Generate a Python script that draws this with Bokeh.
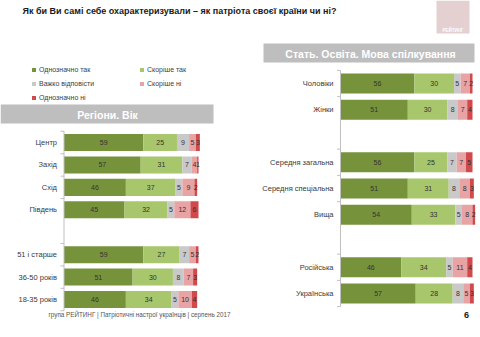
import numpy as np
from bokeh.plotting import figure
from bokeh.models import Range1d, ColumnDataSource, Legend, LegendItem
from bokeh.core.properties import value
from bokeh.embed import file_html
from bokeh.resources import INLINE

# ---------------- data ----------------
title = "Як  би Ви самі себе охарактеризували – як патріота своєї країни чи ні?"
series = ["Однозначно так", "Скоріше так", "Важко відповісти", "Скоріше ні", "Однозначно ні"]
colors = ["#76933c", "#a8c66c", "#c9c9c9", "#e8a4a4", "#d0494b"]

left_header = "Регіони. Вік"
left_groups = [["Центр", "Захід", "Схід", "Південь"],
               ["51 і старше", "36-50 років", "18-35 років"]]
left_yes = [59, 57, 46, 45, 59, 51, 46]
left_rather_yes = [25, 31, 37, 32, 27, 30, 34]
left_hard = [9, 7, 5, 5, 7, 8, 5]
left_rather_no = [5, 4, 9, 12, 5, 7, 10]
left_no = [3, 1, 2, 6, 2, 3, 4]

right_header = "Стать. Освіта. Мова спілкування"
right_groups = [["Чоловіки", "Жінки"],
                ["Середня загальна", "Середня спеціальна", "Вища"],
                ["Російська", "Українська"]]
right_yes = [56, 51, 56, 51, 54, 46, 57]
right_rather_yes = [30, 30, 25, 31, 33, 34, 28]
right_hard = [5, 8, 7, 8, 5, 5, 8]
right_rather_no = [7, 7, 7, 8, 8, 11, 5]
right_no = [2, 4, 5, 3, 2, 4, 3]

footer = "група РЕЙТИНГ  | Патріотичні настрої українців |  серпень 2017"
page_no = "6"
logo_text = "РЕЙТИНГ"

# ---------------- canvas ----------------
W, H = 480, 337
FONT_NAME = "Liberation Sans"
FONT = value(FONT_NAME)

p = figure(width=W, height=H, x_range=Range1d(0, W), y_range=Range1d(H, 0),
           x_axis_location=None, y_axis_location=None, min_border=0,
           toolbar_location=None, output_backend="svg")
p.grid.visible = False
p.outline_line_color = None
p.background_fill_color = "white"
p.border_fill_color = "white"


def slots_for(groups):
    out, s = [], 0
    for g in groups:
        for _ in g:
            out.append(s)
            s += 1
        s += 1
    return out


def panel(name, groups, vals, x0, scale, y0, dy):
    xr, yr = name + "x", name + "y"
    p.extra_x_ranges[xr] = Range1d(-x0 / scale, (W - x0) / scale)
    p.extra_y_ranges[yr] = Range1d((H - y0) / dy, -y0 / dy)
    cats = [c for g in groups for c in g]
    slots = slots_for(groups)
    arr = np.array(vals, dtype=float)
    right = np.cumsum(arr, axis=0)
    left = right - arr
    renderers = []
    for i in range(len(vals)):
        src = ColumnDataSource(dict(y=slots, left=left[i], right=right[i],
                                    mid=(left[i] + right[i]) / 2,
                                    lab=[str(v) for v in vals[i]]))
        r = p.hbar(y="y", left="left", right="right", height=0.76, fill_color=colors[i],
                   line_color=None, source=src, x_range_name=xr, y_range_name=yr)
        renderers.append(r)
        p.text(x="mid", y="y", text="lab", source=src, text_align="center",
               text_baseline="middle", text_font=FONT, text_font_size="7px",
               text_color="#333333", x_range_name=xr, y_range_name=yr)
    # axis line + boundary ticks
    top, bottom = -0.5, max(slots) + 0.5
    p.segment(x0=0, x1=0, y0=top, y1=bottom, line_color="#c0c0c0", line_width=1,
              x_range_name=xr, y_range_name=yr)
    bnd = [s - 0.5 for s in slots] + [max(slots) + 0.5]
    p.segment(x0=[-3.5 / scale] * len(bnd), x1=[0] * len(bnd), y0=bnd, y1=bnd,
              line_color="#c0c0c0", line_width=1, x_range_name=xr, y_range_name=yr)
    # category labels
    p.text(x=[0] * len(cats), y=slots, text=cats, x_offset=-7, text_align="right",
           text_baseline="middle", text_font=FONT, text_font_size="7.5px",
           text_color="#3a3a3a", x_range_name=xr, y_range_name=yr)
    return renderers


left_r = panel("l", left_groups,
               [left_yes, left_rather_yes, left_hard, left_rather_no, left_no],
               x0=63.5, scale=1.345, y0=142, dy=22.43)
right_r = panel("r", right_groups,
                [right_yes, right_rather_yes, right_hard, right_rather_no, right_no],
                x0=340, scale=1.32, y0=83, dy=26.25)

# ---------------- decorations ----------------
p.text(x=[22], y=[10], text=[title], text_font=FONT, text_font_style="bold",
       text_font_size="9px", text_color="#1a1a1a", text_baseline="middle")

# logo
p.quad(left=[436], right=[469], top=[0], bottom=[33], fill_color="#e4d0d0", line_color=None)
p.text(x=[452.5], y=[30], text=[logo_text], text_font=FONT, text_font_style="bold",
       text_font_size="4.5px", text_color="white", text_align="center",
       text_baseline="middle")

# headers
p.quad(left=[0], right=[213], top=[104], bottom=[123], fill_color="#bebebe", line_color=None)
p.text(x=[107], y=[114], text=[left_header], text_font=FONT, text_font_style="bold",
       text_font_size="10.5px", text_color="white", text_align="center",
       text_baseline="middle")
p.quad(left=[263], right=[474], top=[43], bottom=[62], fill_color="#bebebe", line_color=None)
p.text(x=[370], y=[53], text=[right_header], text_font=FONT, text_font_style="bold",
       text_font_size="10.5px", text_color="white", text_align="center",
       text_baseline="middle")

# footer
p.text(x=[48], y=[314], text=[footer], text_font=FONT, text_font_size="6.3px",
       text_color="#555555", text_baseline="middle")
p.text(x=[466], y=[314], text=[page_no], text_font=FONT, text_font_style="bold",
       text_font_size="9px", text_color="#1a1a1a", text_align="center",
       text_baseline="middle")

# legend
legend = Legend(items=[LegendItem(label=series[i], renderers=[left_r[i]]) for i in range(5)],
                location=(31, H - 102), orientation="horizontal", ncols=2,
                glyph_width=5, glyph_height=5, label_height=10, label_standoff=3,
                label_width=96, spacing=4, padding=0, margin=0,
                border_line_color=None, background_fill_alpha=0,
                label_text_font=FONT_NAME, label_text_font_size="7px",
                label_text_color="#404040")
p.add_layout(legend)

open("out.html", "w").write(file_html(p, INLINE))
